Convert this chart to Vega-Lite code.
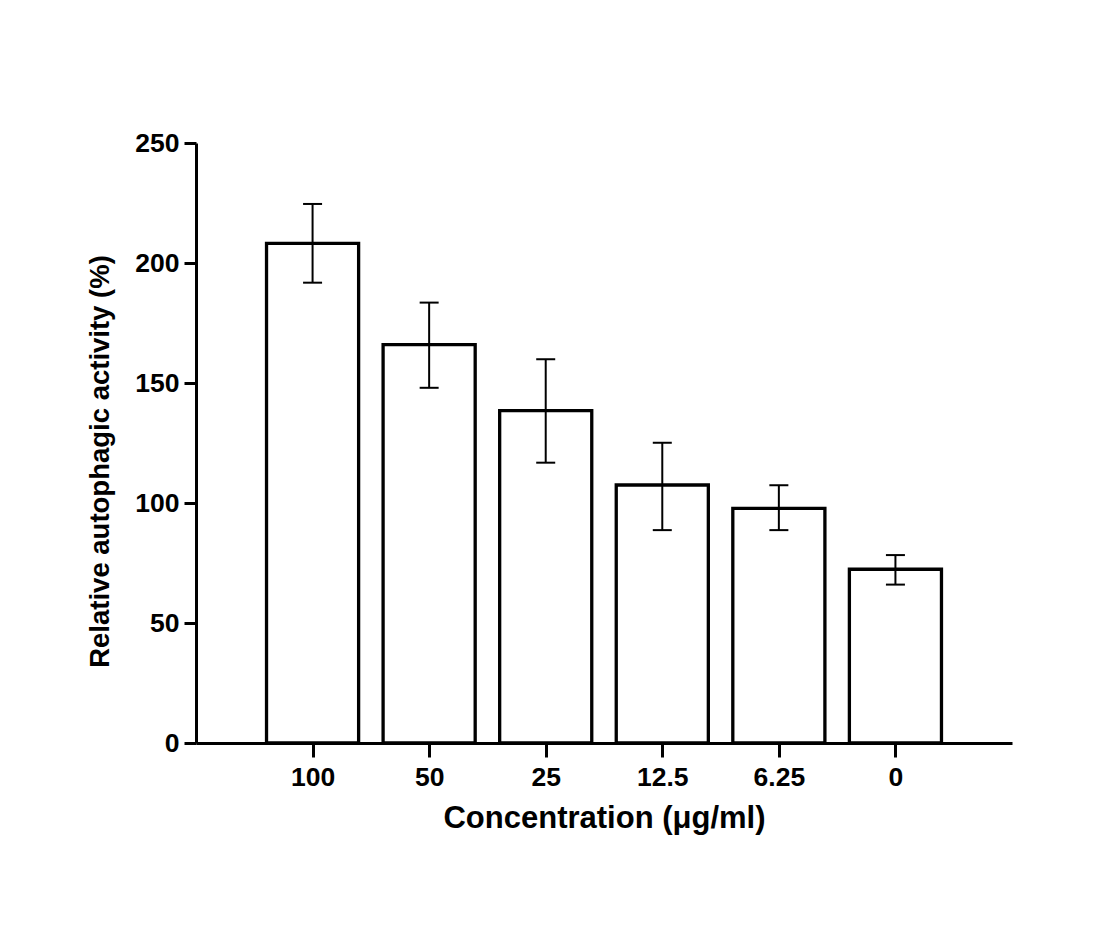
{
  "$schema": "https://vega.github.io/schema/vega-lite/v6.json",
  "autosize": "none",
  "width": 816,
  "height": 600,
  "padding": {"left": 196, "top": 143, "right": 104, "bottom": 189},
  "background": "white",
  "view": {"stroke": null},
  "data": {
    "values": [
      {"conc": "100", "mean": 208.2, "lo": 191.8, "hi": 224.6},
      {"conc": "50", "mean": 166.0, "lo": 148.0, "hi": 183.5},
      {"conc": "25", "mean": 138.5, "lo": 116.8, "hi": 159.9},
      {"conc": "12.5", "mean": 107.5, "lo": 88.7, "hi": 125.1},
      {"conc": "6.25", "mean": 97.8, "lo": 88.7, "hi": 107.4},
      {"conc": "0", "mean": 72.4, "lo": 66.0, "hi": 78.3}
    ]
  },
  "layer": [
    {
      "mark": {"type": "bar", "fill": "white", "stroke": "black", "strokeWidth": 3.3},
      "encoding": {
        "x": {
          "field": "conc",
          "type": "ordinal",
          "sort": null,
          "scale": {"paddingInner": 0.21, "paddingOuter": 0.605},
          "axis": {
            "title": "Concentration (μg/ml)",
            "labelAngle": 0,
            "labelFontSize": 26.5,
            "labelPadding": 7,
            "ticks": true,
            "tickOffset": 0,
            "titleFontSize": 31,
            "titlePadding": 13
          }
        },
        "y": {
          "field": "mean",
          "type": "quantitative",
          "scale": {"domain": [0, 250], "nice": false},
          "axis": {
            "title": "Relative autophagic activity (%)",
            "values": [0, 50, 100, 150, 200, 250],
            "grid": false,
            "labelFontSize": 26.5,
            "labelPadding": 5,
            "titleFontSize": 27.5,
            "titlePadding": 20,
            "titleY": 318
          }
        }
      }
    },
    {
      "mark": {"type": "rule", "stroke": "black", "strokeWidth": 2},
      "encoding": {"x": {"field": "conc", "type": "ordinal", "sort": null}, "y": {"field": "lo", "type": "quantitative"}, "y2": {"field": "hi"}}
    },
    {
      "mark": {"type": "tick", "orient": "horizontal", "size": 19, "thickness": 2, "color": "black", "opacity": 1},
      "encoding": {"x": {"field": "conc", "type": "ordinal", "sort": null}, "y": {"field": "lo", "type": "quantitative"}}
    },
    {
      "mark": {"type": "tick", "orient": "horizontal", "size": 19, "thickness": 2, "color": "black", "opacity": 1},
      "encoding": {"x": {"field": "conc", "type": "ordinal", "sort": null}, "y": {"field": "hi", "type": "quantitative"}}
    }
  ],
  "config": {
    "font": "Liberation Sans",
    "axis": {
      "domainColor": "black",
      "domainWidth": 3,
      "tickColor": "black",
      "tickWidth": 3,
      "tickSize": 12,
      "labelColor": "black",
      "labelFont": "Liberation Sans",
      "labelFontWeight": "bold",
      "titleColor": "black",
      "titleFont": "Liberation Sans",
      "titleFontWeight": "bold"
    },
    "axisX": {
      "ticks": true,
      "tickColor": "#000000",
      "tickOpacity": 1,
      "tickWidth": 3,
      "tickSize": 14
    }
  }
}
